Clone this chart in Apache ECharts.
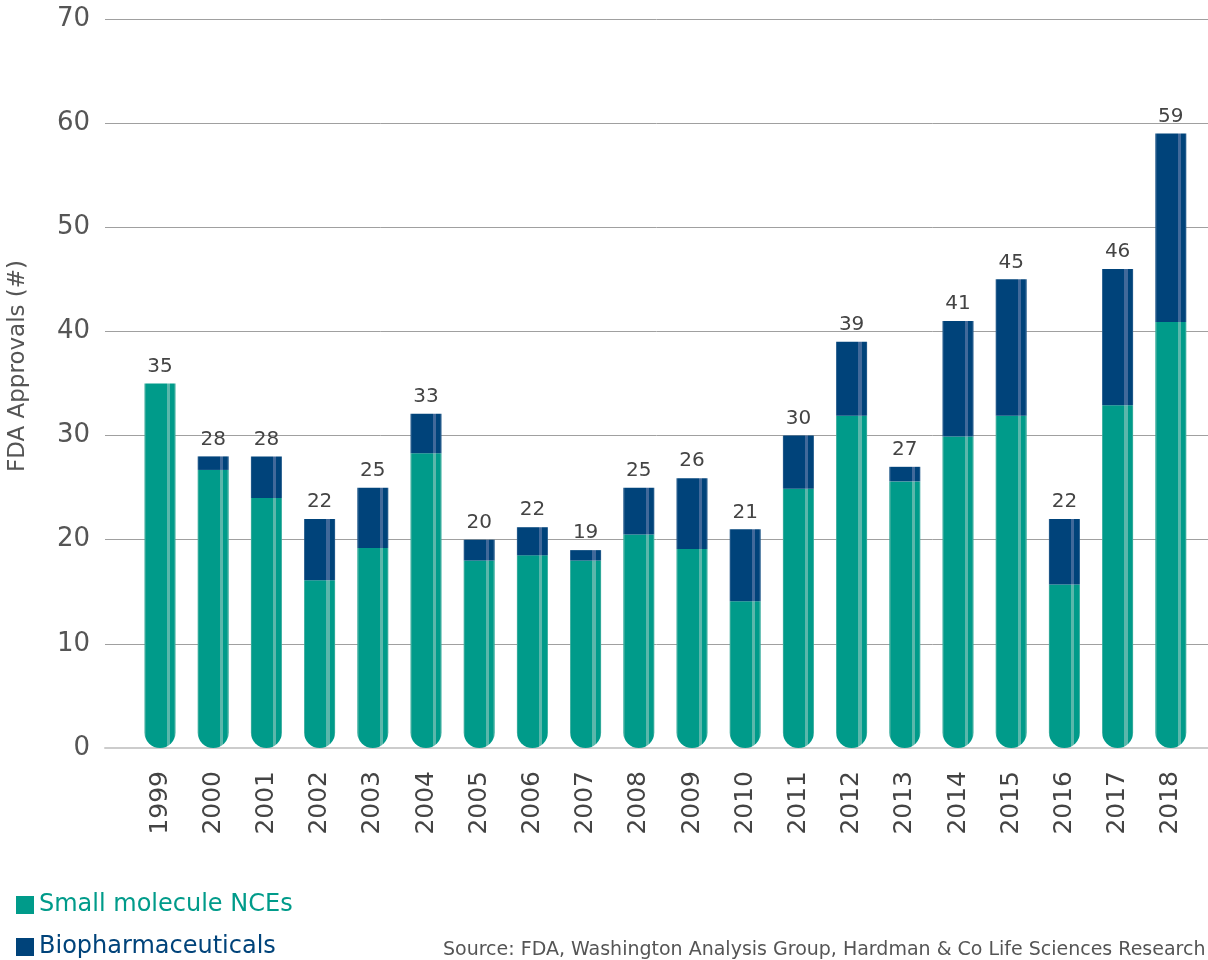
<!DOCTYPE html>
<html>
<head>
<meta charset="utf-8">
<script src="https://cdn.jsdelivr.net/npm/echarts@6/dist/echarts.min.js"></script>
<style>
html,body{margin:0;padding:0;background:#fff;}
#chart{width:1208px;height:960px;}
</style>
</head>
<body>
<div id="chart"></div>
<script>
const years = ['1999','2000','2001','2002','2003','2004','2005','2006','2007','2008','2009','2010','2011','2012','2013','2014','2015','2016','2017','2018'];
const smallMolecule = [35, 26.7, 24, 16.1, 19.2, 28.3, 18, 18.5, 18, 20.5, 19.1, 14.1, 24.9, 31.9, 25.6, 29.9, 31.9, 15.7, 32.9, 40.9];
const biopharma = [0, 1.3, 4, 5.9, 5.8, 3.8, 2, 2.7, 1, 4.5, 6.8, 6.9, 5.1, 7.1, 1.4, 11.1, 13.1, 6.3, 13.1, 18.1];
const totalLabels = ['35','28','28','22','25','33','20','22','19','25','26','21','30','39','27','41','45','22','46','59'];
const seriesNames = ['Small molecule NCEs', 'Biopharmaceuticals'];
const yAxisTitle = 'FDA Approvals (#)';
const sourceText = 'Source: FDA, Washington Analysis Group, Hardman & Co Life Sciences Research';

const GREEN = '#009b8a', GREEN_HI = '#5ab7ab', GREEN_EDGE = '#2fa999';
const BLUE = '#00437a', BLUE_HI = '#41699a', BLUE_EDGE = '#1d5688';

function stripe(base, hi, edge) {
  return new echarts.graphic.LinearGradient(0, 0, 1, 0, [
    {offset: 0, color: edge}, {offset: 0.04, color: edge},
    {offset: 0.04, color: base}, {offset: 0.72, color: base},
    {offset: 0.72, color: hi}, {offset: 0.82, color: hi},
    {offset: 0.82, color: base}, {offset: 0.96, color: base},
    {offset: 0.96, color: edge}, {offset: 1, color: edge}
  ]);
}

const chart = echarts.init(document.getElementById('chart'), null, {renderer: 'canvas'});
const FONT = 'DejaVu Sans';
const legendBase = {
  orient: 'vertical', left: 16, padding: 0,
  itemWidth: 18, itemHeight: 18, itemGap: 6, icon: 'rect',
  textStyle: {fontSize: 24, fontFamily: FONT}
};
const option = {
  animation: false,
  backgroundColor: '#ffffff',
  textStyle: {fontFamily: FONT},
  grid: [
    {left: 105, right: 0, top: 19, bottom: 212},
    {left: 133.4, right: 10.6, top: 19, bottom: 212}
  ],
  xAxis: [
    {gridIndex: 0, type: 'value', min: 0, max: 1,
     axisLabel: {show: false}, axisTick: {show: false}, splitLine: {show: false},
     axisLine: {show: true, lineStyle: {color: '#cccccc', width: 2}}},
    {gridIndex: 1, type: 'category', data: years,
     axisLine: {show: false}, axisTick: {show: false},
     axisLabel: {rotate: 90, fontSize: 25, color: '#444', margin: 23, fontFamily: FONT}}
  ],
  yAxis: [
    {gridIndex: 0, type: 'value', min: 0, max: 70, interval: 10,
     axisLine: {show: false}, axisTick: {show: false},
     splitLine: {show: true, lineStyle: {color: '#a0a0a0', width: 1}},
     axisLabel: {fontSize: 26, color: '#555', margin: 15, fontFamily: FONT}},
    {gridIndex: 1, type: 'value', min: 0, max: 70, interval: 10, show: false}
  ],
  legend: [
    Object.assign({}, legendBase, {top: 893,
      data: [{name: seriesNames[0], itemStyle: {color: GREEN}, textStyle: {color: GREEN}}]}),
    Object.assign({}, legendBase, {top: 935,
      data: [{name: seriesNames[1], itemStyle: {color: BLUE}, textStyle: {color: BLUE}}]})
  ],
  series: [
    {name: seriesNames[0], type: 'bar', stack: 'total', xAxisIndex: 1, yAxisIndex: 1,
     barWidth: 31, data: smallMolecule,
     itemStyle: {color: stripe(GREEN, GREEN_HI, GREEN_EDGE), borderRadius: [0, 0, 15.5, 15.5]}},
    {name: seriesNames[1], type: 'bar', stack: 'total', xAxisIndex: 1, yAxisIndex: 1,
     barWidth: 31, data: biopharma,
     itemStyle: {color: stripe(BLUE, BLUE_HI, BLUE_EDGE)},
     label: {show: true, position: 'top', distance: 7, fontSize: 20, color: '#444', fontFamily: FONT,
             formatter: p => totalLabels[p.dataIndex]}}
  ],
  graphic: [
    {type: 'text', x: 18, y: 366, rotation: Math.PI / 2,
     style: {text: yAxisTitle, fontSize: 23, fill: '#555', fontFamily: FONT, align: 'center', verticalAlign: 'middle'}},
    {type: 'text', left: 443, top: 941,
     style: {text: sourceText, fontSize: 19, fill: '#555', fontFamily: FONT}}
  ]
};
chart.setOption(option);
</script>
</body>
</html>
